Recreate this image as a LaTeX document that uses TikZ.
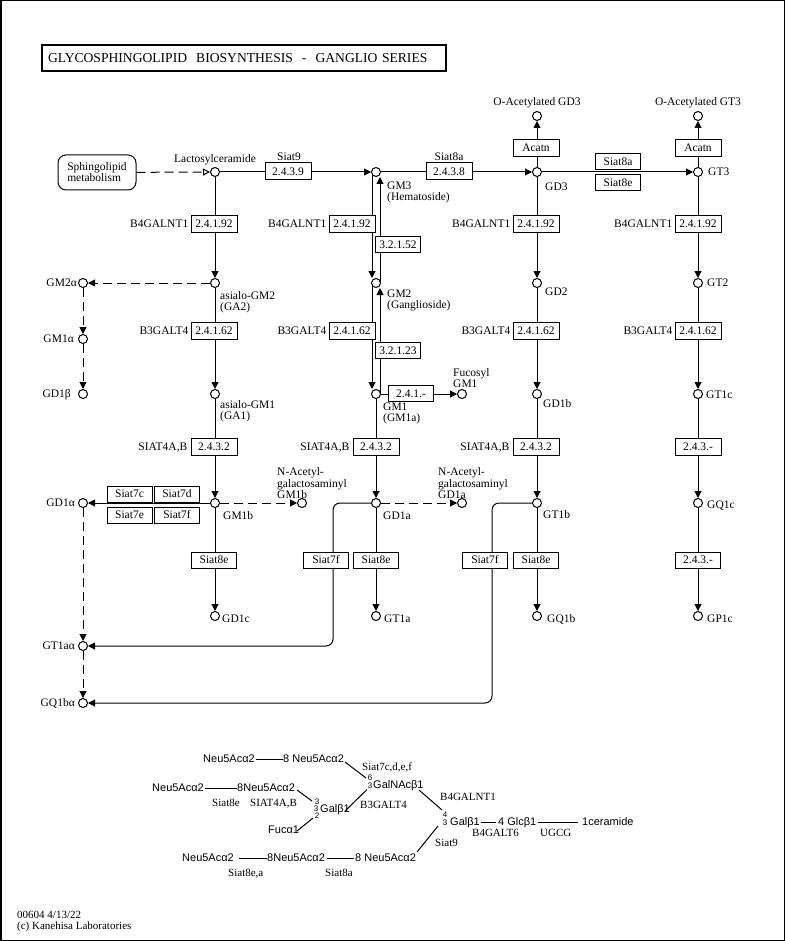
\documentclass[tikz,border=0pt]{standalone}
\usepackage{fontspec}
\setmainfont{Liberation Serif}
\newfontfamily\sansfam{Liberation Sans}
\usetikzlibrary{arrows.meta}
\pgfdeclarelayer{bg}
\pgfsetlayers{bg,main}
\newcommand\kgm{\fontsize{11.5}{11}\selectfont}
\newcommand\kgn{\fontsize{11.5}{9.8}\selectfont}
\newcommand\kgs{\fontsize{11}{11}\selectfont}
\newcommand\kss{\sansfam\fontsize{11}{11}\selectfont}
\newcommand\ksd{\sansfam\fontsize{8}{8}\selectfont}
\begin{document}
\begin{tikzpicture}[x=1pt,y=-1pt,
 every node/.style={inner sep=0pt},
 cpd/.style={circle,draw,fill=white,minimum size=9pt,line width=1pt},
 enz/.style={draw,fill=white,minimum width=46pt,minimum height=17pt,font=\kgm,line width=1pt},
 enzs/.style={enz,minimum width=45pt,minimum height=16pt},
 lbl/.style={font=\kgm,text height=7.5pt,text depth=0pt},
 ml/.style={font=\kgm,align=left,anchor=north west},
 mln/.style={font=\kgn,align=left,anchor=north west},
 con/.style={line width=1pt},
 arr/.style={con,-{Triangle[length=7pt,width=7pt]}},
 dsh/.style={dash pattern=on 9pt off 5pt},
 ss/.style={font=\kss,text height=7.9pt,text depth=0pt,anchor=west},
 sd/.style={font=\ksd,text height=5.7pt,text depth=0pt},
 sl/.style={font=\kgs,text height=7.3pt,text depth=0pt,anchor=west}
]
\useasboundingbox (0,0) rectangle (785,941);
\draw[line width=1.5pt] (0.75,0.75) rectangle (784.25,940.25);

% title
\node[draw,line width=2pt,anchor=west,text width=392pt,inner xsep=6pt,minimum height=26pt,align=left,font=\fontsize{13.6}{14}\selectfont] (title) at (41,58) {GLYCOSPHINGOLIPID\ \ BIOSYNTHESIS\ \ -\ \ GANGLIO SERIES};

% map node
\node[draw,rounded corners=8pt,minimum width=78pt,minimum height=35pt,align=left,font=\kgm,line width=1pt] (sph) at (97,172.5) {Sphingolipid\\metabolism};

% compounds
\node[cpd] (lac) at (215,172) {};
\node[cpd] (gm3) at (376,172) {};
\node[cpd] (gd3) at (537,172) {};
\node[cpd] (gt3) at (698,172) {};
\node[cpd] (oagd3) at (537,116) {};
\node[cpd] (oagt3) at (698,116) {};
\node[cpd] (ga2) at (215,283) {};
\node[cpd] (gm2) at (376,283) {};
\node[cpd] (gd2) at (537,283) {};
\node[cpd] (gt2) at (698,283) {};
\node[cpd] (gm2a) at (83,283) {};
\node[cpd] (gm1al) at (83,339) {};
\node[cpd] (ga1) at (215,394) {};
\node[cpd] (gm1) at (376,394) {};
\node[cpd] (fgm1) at (462,394) {};
\node[cpd] (gd1b) at (537,394) {};
\node[cpd] (gt1c) at (698,394) {};
\node[cpd] (gd1be) at (83,394) {};
\node[cpd] (gm1b) at (215,503) {};
\node[cpd] (nagm1b) at (302,503) {};
\node[cpd] (gd1a) at (376,503) {};
\node[cpd] (nagd1a) at (462,503) {};
\node[cpd] (gt1b) at (537,503) {};
\node[cpd] (gq1c) at (698,503) {};
\node[cpd] (gd1al) at (83,503) {};
\node[cpd] (gd1c) at (215,616) {};
\node[cpd] (gt1a) at (376,616) {};
\node[cpd] (gq1b) at (537,616) {};
\node[cpd] (gp1c) at (698,616) {};
\node[cpd] (gt1aa) at (83,646) {};
\node[cpd] (gq1ba) at (83,703) {};
\coordinate (r1) at (333,646);
\coordinate (r2) at (492,703);

% connectors
\begin{pgfonlayer}{bg}
\draw[con,dsh,-{Triangle[open,fill=white,length=7pt,width=7pt]}] (sph) -- (lac);
\draw[arr] (lac) -- (gm3);
\draw[arr] (gm3) -- (gd3);
\draw[arr] (gd3) -- (gt3);
\draw[arr] (gd3) -- (oagd3);
\draw[arr] (gt3) -- (oagt3);
\draw[arr] (lac) -- (ga2);
\draw[arr] (ga2) -- (ga1);
\draw[arr] (ga1) -- (gm1b);
\draw[arr] (gm1b) -- (gd1c);
\draw[arr,dsh] (ga2) -- (gm2a);
\draw[arr,dsh] (gm2a) -- (gm1al);
\draw[arr,dsh] (gm1al) -- (gd1be);
\draw[arr] (gm1b) -- (gd1al);
\draw[arr,dsh] (gm1b) -- (nagm1b);
\draw[arr,dsh] (gd1al) -- (gt1aa);
\draw[arr,dsh] (gt1aa) -- (gq1ba);
\draw[arr] ([xshift=-4pt]gm3.center) -- ([xshift=-4pt]gm2.north);
\draw[arr] ([xshift=-4pt]gm2.center) -- ([xshift=-4pt]gm1.north);
\draw[arr] ([xshift=4pt]gm1.center) -- ([xshift=4pt]gm2.south);
\draw[arr] ([xshift=4pt]gm2.center) -- ([xshift=4pt]gm3.south);
\draw[arr] (gm1) -- (fgm1);
\draw[arr] (gm1) -- (gd1a);
\draw[arr] (gd1a) -- (gt1a);
\draw[arr,dsh] (gd1a) -- (nagd1a);
\draw[arr,rounded corners=7pt] (gd1a.west) -| (r1) -- (gt1aa);
\draw[arr] (gd3) -- (gd2);
\draw[arr] (gd2) -- (gd1b);
\draw[arr] (gd1b) -- (gt1b);
\draw[arr] (gt1b) -- (gq1b);
\draw[arr,rounded corners=7pt] (gt1b.west) -| (r2) -- (gq1ba);
\draw[arr] (gt3) -- (gt2);
\draw[arr] (gt2) -- (gt1c);
\draw[arr] (gt1c) -- (gq1c);
\draw[arr] (gq1c) -- (gp1c);
\end{pgfonlayer}

% enzymes
\node[enz] (e1) at (288,171.5) {2.4.3.9};
\node[enz] (e2) at (449,171.5) {2.4.3.8};
\node[enzs] (e3) at (618,162) {Siat8a};
\node[enzs] (e4) at (618,183) {Siat8e};
\node[enz] (e5) at (536,148) {Acatn};
\node[enz] (e6) at (698,148) {Acatn};
\node[enz] (e7) at (214,224) {2.4.1.92};
\node[enz] (e8) at (352,224) {2.4.1.92};
\node[enz] (e9) at (536,224) {2.4.1.92};
\node[enz] (e10) at (698,224) {2.4.1.92};
\node[enzs] (e11) at (398,244.5) {3.2.1.52};
\node[enz] (e12) at (214,331) {2.4.1.62};
\node[enz] (e13) at (352,331) {2.4.1.62};
\node[enz] (e14) at (536,331) {2.4.1.62};
\node[enz] (e15) at (698,331) {2.4.1.62};
\node[enzs] (e16) at (398,350.5) {3.2.1.23};
\node[enzs] (e17) at (411,393.5) {2.4.1.-};
\node[enz] (e18) at (214,447) {2.4.3.2};
\node[enz] (e19) at (376,447) {2.4.3.2};
\node[enz] (e20) at (536,447) {2.4.3.2};
\node[enz] (e21) at (698,447) {2.4.3.-};
\node[enzs] (e22) at (129.5,494) {Siat7c};
\node[enzs] (e23) at (177,494) {Siat7d};
\node[enzs] (e24) at (129.5,515) {Siat7e};
\node[enzs] (e25) at (177,515) {Siat7f};
\node[enzs] (e26) at (214,560) {Siat8e};
\node[enzs] (e27) at (326,560) {Siat7f};
\node[enzs] (e28) at (376,560) {Siat8e};
\node[enzs] (e29) at (485,560) {Siat7f};
\node[enzs] (e30) at (536,560) {Siat8e};
\node[enzs] (e31) at (698,560) {2.4.3.-};

% enzyme labels
\node[lbl] at (289,157) {Siat9};
\node[lbl] at (449,157) {Siat8a};
\foreach \b in {e7,e8,e9,e10} \node[lbl,anchor=east] at ([xshift=-2pt]\b.west) {B4GALNT1};
\foreach \b in {e12,e13,e14,e15} \node[lbl,anchor=east] at ([xshift=-2pt]\b.west) {B3GALT4};
\foreach \b in {e18,e19,e20} \node[lbl,anchor=east] at ([xshift=-3pt]\b.west) {SIAT4A,B};

% compound labels
\node[lbl] at (215,159) {Lactosylceramide};
\node[lbl] at (537,102) {O-Acetylated GD3};
\node[lbl] at (698,102) {O-Acetylated GT3};
\node[ml] at (387,182) {GM3\\(Hematoside)};
\node[lbl,anchor=west] at (545,187) {GD3};
\node[lbl,anchor=west] at (708,172) {GT3};
\node[ml] at (220,291) {asialo-GM2\\(GA2)};
\node[ml] at (387,290) {GM2\\(Ganglioside)};
\node[lbl,anchor=west] at (545,292) {GD2};
\node[lbl,anchor=west] at (707,283) {GT2};
\node[lbl,anchor=east] at (77,283) {GM2α};
\node[lbl,anchor=east] at (74,339) {GM1α};
\node[lbl,anchor=east] at (71,394) {GD1β};
\node[ml] at (220,400) {asialo-GM1\\(GA1)};
\node[ml] at (383,403) {GM1\\(GM1a)};
\node[mln] at (453,368) {Fucosyl\\GM1};
\node[lbl,anchor=west] at (543,404) {GD1b};
\node[lbl,anchor=west] at (706,395) {GT1c};
\node[mln] at (277,467.5) {N-Acetyl-\\galactosaminyl\\GM1b};
\node[mln] at (438,467.5) {N-Acetyl-\\galactosaminyl\\GD1a};
\node[lbl,anchor=east] at (75,503) {GD1α};
\node[lbl,anchor=west] at (223,516) {GM1b};
\node[lbl,anchor=west] at (383,516) {GD1a};
\node[lbl,anchor=west] at (543,515) {GT1b};
\node[lbl,anchor=west] at (707,505) {GQ1c};
\node[lbl,anchor=west] at (222,619) {GD1c};
\node[lbl,anchor=west] at (384,619) {GT1a};
\node[lbl,anchor=west] at (547,619) {GQ1b};
\node[lbl,anchor=west] at (707,619) {GP1c};
\node[lbl,anchor=east] at (75,646) {GT1aα};
\node[lbl,anchor=east] at (75,703) {GQ1bα};

% structure
\node[ss] (a1) at (203,759) {Neu5Acα2};
\node[ss] (a2) at (283,759) {8 Neu5Acα2};
\draw[con] ([xshift=1pt]a1.east) -- (a2.west);
\draw[con] (345,762) -- (366,778);
\node[sl] at (362,767) {Siat7c,d,e,f};
\node[sd] at (370,778) {6};
\node[sd] at (370,786) {3};
\node[ss] (gn) at (373,785) {GalNAcβ1};
\node[ss] (b1) at (152,788) {Neu5Acα2};
\node[ss] (b2) at (237,788) {8Neu5Acα2};
\draw[con] ([xshift=1pt]b1.east) -- (b2.west);
\draw[con] (297,790) -- (312,801);
\node[sl] at (212,803) {Siat8e};
\node[sl] at (250,803) {SIAT4A,B};
\node[sd] at (317,802) {3};
\node[sd] at (316,809) {3};
\node[sd] at (317,815.5) {2};
\node[ss] (gb) at (320,809) {Galβ1};
\draw[con] (345,811) -- (367,789.5);
\node[sl] at (360,805) {B3GALT4};
\node[ss] (fu) at (268,830) {Fucα1};
\draw[con] (297,831) -- (313,818);
\draw[con] (419,790) -- (442,810);
\node[sl] at (440,797) {B4GALNT1};
\node[sd] at (445,815) {4};
\node[sd] at (445,823) {3};
\node[ss] (g1) at (450,822) {Galβ1};
\node[ss] (g2) at (498,822) {4 Glcβ1};
\node[ss] (g3) at (582,822) {1ceramide};
\draw[con] ([xshift=1pt]g1.east) -- ([xshift=-2pt]g2.west);
\draw[con] ([xshift=1pt]g2.east) -- ([xshift=-4pt]g3.west);
\node[sl] at (472,833) {B4GALT6};
\node[sl] at (540,833) {UGCG};
\draw[con] (417,852) -- (438,826);
\node[sl] at (435,843) {Siat9};
\node[ss] (c1) at (182,858) {Neu5Acα2};
\node[ss] (c2) at (267,858) {8Neu5Acα2};
\node[ss] (c3) at (355,858) {8 Neu5Acα2};
\draw[con] ([xshift=5pt]c1.east) -- (c2.west);
\draw[con] ([xshift=2pt]c2.east) -- ([xshift=-1pt]c3.west);
\node[sl] at (228,873) {Siat8e,a};
\node[sl] at (325,873) {Siat8a};

% footer
\node[ml,font=\kgs] at (17,911) {00604 4/13/22\\(c) Kanehisa Laboratories};
\end{tikzpicture}
\end{document}
